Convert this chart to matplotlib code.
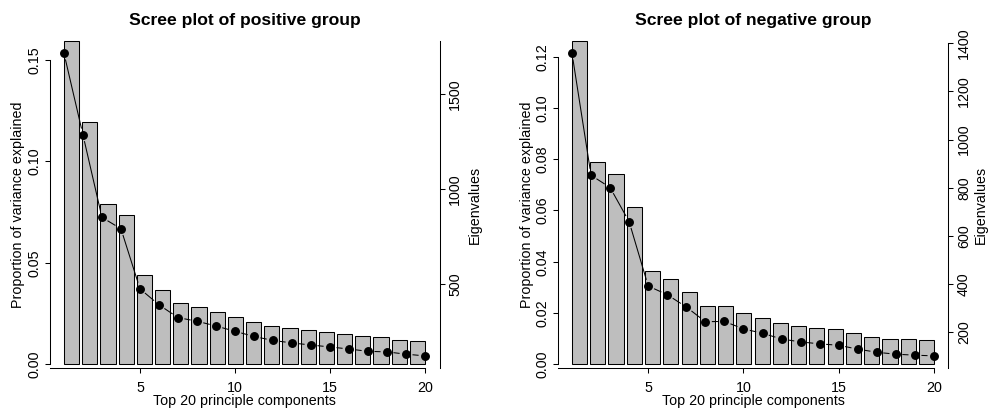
import numpy as np
import matplotlib
matplotlib.use("Agg")
import matplotlib.pyplot as plt

plt.rcParams['font.family'] = ['Liberation Sans', 'DejaVu Sans']

# -----------------------------------------------------------
# datos
# -----------------------------------------------------------
pcs = np.arange(1, 21)

pos_prop = [0.1594, 0.1193, 0.0790, 0.0736, 0.0442, 0.0365, 0.0302, 0.0284,
            0.0259, 0.0235, 0.0209, 0.0190, 0.0180, 0.0168, 0.0161, 0.0149,
            0.0138, 0.0135, 0.0121, 0.0115]
pos_eig = [1714, 1285, 852, 792, 477, 393, 326, 307, 282, 254,
           227, 206, 193, 182, 172, 161, 149, 146, 134, 125]

neg_prop = [0.1261, 0.0790, 0.0744, 0.0612, 0.0365, 0.0332, 0.0282, 0.0229,
            0.0229, 0.0199, 0.0182, 0.0160, 0.0151, 0.0140, 0.0137, 0.0121,
            0.0108, 0.0100, 0.0098, 0.0095]
neg_eig = [1359, 852, 801, 659, 392, 356, 305, 244, 245, 214,
           196, 172, 160, 152, 146, 130, 117, 109, 105, 102]

pos_prop_ticks = [0.00, 0.05, 0.10, 0.15]
pos_eig_ticks = [500, 1000, 1500]
neg_prop_ticks = [0.00, 0.02, 0.04, 0.06, 0.08, 0.10, 0.12]
neg_eig_ticks = [200, 400, 600, 800, 1000, 1200, 1400]

W, H = 989, 409
fig = plt.figure(figsize=(W / 100, H / 100), dpi=100)

FS = 10.3
LW = 0.75


def px(x, y):
    return x / W, 1 - y / H


def scree(x0, x1, prop, eig, prop_ticks, eig_ticks, title, eig_top, lab_off):
    rect = [x0 / W, 1 - 368 / H, (x1 - x0) / W, 327 / H]

    # barplot (proporcion de varianza)
    ax = fig.add_axes(rect)
    xb = 1.2 * pcs - 0.5
    ax.bar(xb, prop, width=1.0, color="#bebebe", edgecolor="black",
           linewidth=LW, clip_on=False)
    ax.set_xlim(-0.752, 24.952)
    ax.set_ylim(-0.0114 * max(prop), max(prop))
    for s in ["top", "right", "bottom"]:
        ax.spines[s].set_visible(False)
    ax.spines["left"].set_bounds(prop_ticks[0], prop_ticks[-1])
    ax.spines["left"].set_linewidth(LW)
    ax.set_xticks([])
    ax.set_yticks(prop_ticks)
    ax.set_yticklabels(["%.2f" % t for t in prop_ticks], rotation=90,
                       va="center", fontsize=FS)
    ax.tick_params(axis="y", length=5 * 0.72, width=LW, pad=2.5)

    # valores propios
    ax2 = fig.add_axes(rect, facecolor="none")
    rng = max(eig) - min(eig)
    ax2.set_xlim(1 - 0.76, 20 + 0.76)
    ax2.set_ylim(min(eig) - 0.04 * rng, max(eig) + 0.04 * rng)
    ax2.plot(pcs, eig, "o", color="black", markersize=5.4, clip_on=False)

    # lineas tipo "b" con huecos alrededor de los puntos
    pts = ax2.transData.transform(np.column_stack([pcs, eig]))
    gap = 7.0
    for a, b in zip(pts[:-1], pts[1:]):
        d = b - a
        L = np.hypot(*d)
        if L <= 2 * gap:
            continue
        u = d / L
        seg = ax2.transData.inverted().transform([a + u * gap, b - u * gap])
        ax2.plot(seg[:, 0], seg[:, 1], color="black", lw=LW)

    ax2.spines["top"].set_visible(False)
    ax2.spines["left"].set_visible(False)
    ax2.spines["bottom"].set_bounds(ax2.get_xlim()[0], 20)
    ax2.spines["right"].set_bounds(ax2.get_ylim()[0], eig_top)
    ax2.spines["bottom"].set_linewidth(LW)
    ax2.spines["right"].set_linewidth(LW)
    ax2.yaxis.tick_right()
    ax2.set_xticks([5, 10, 15, 20])
    ax2.set_xticklabels(["5", "10", "15", "20"], fontsize=FS)
    ax2.set_yticks(eig_ticks)
    ax2.set_yticklabels([str(t) for t in eig_ticks], rotation=90,
                        va="center", fontsize=FS)
    ax2.tick_params(axis="x", length=5 * 0.72, width=LW, pad=6)
    ax2.tick_params(axis="y", length=5 * 0.72, width=LW, pad=2.5)

    xc = (x0 + x1) / 2
    fig.text(*px(xc, 20), title, ha="center", va="center",
             fontsize=12.6, fontweight="bold")
    fig.text(*px(xc, 401.5), "Top 20 principle components", ha="center",
             va="center", fontsize=FS)
    fig.text(*px(x0 - 31, (41 + 368) / 2), "Proportion of variance explained",
             ha="center", va="center", rotation=90, fontsize=FS)
    fig.text(*px(x1 + lab_off, (41 + 368) / 2), "Eigenvalues", ha="center",
             va="center", rotation=90, fontsize=FS)


scree(49.5, 439.5, pos_prop, pos_eig, pos_prop_ticks, pos_eig_ticks,
      "Scree plot of positive group", 1777.6, 35.5)
scree(557.5, 948.5, neg_prop, neg_eig, neg_prop_ticks, neg_eig_ticks,
      "Scree plot of negative group", 1400, 32.0)

fig.savefig("out.png", dpi=100)
